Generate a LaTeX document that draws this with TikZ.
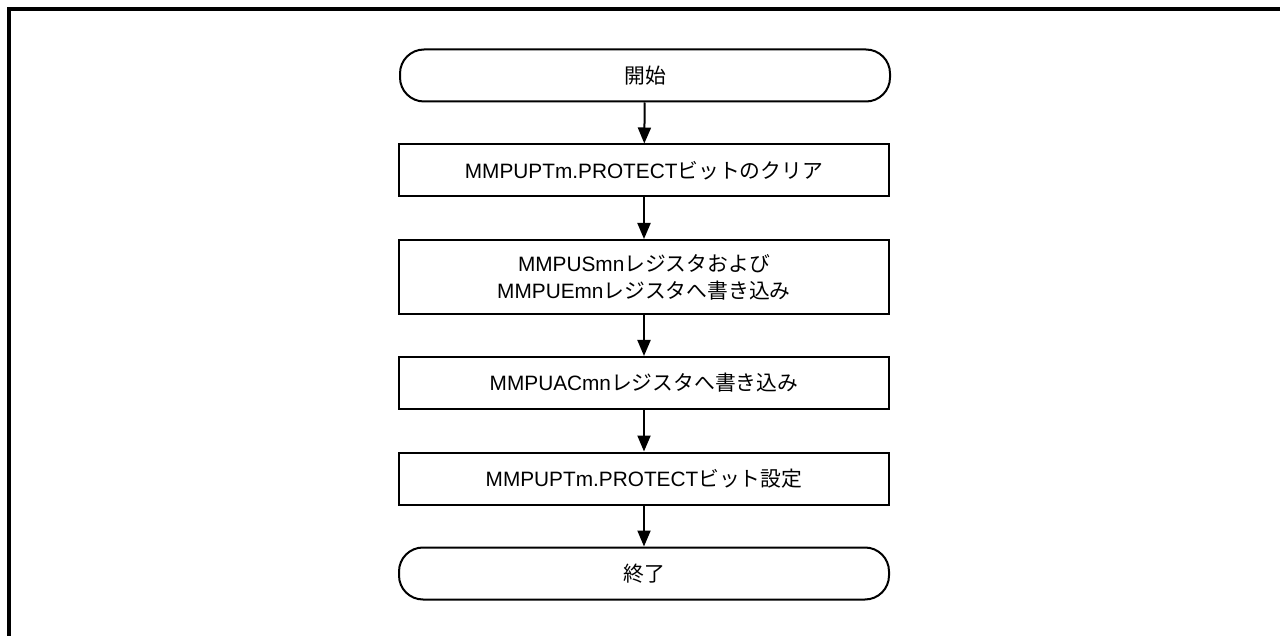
\documentclass[tikz,border=0pt]{standalone}
\usepackage{fontspec}
\setmainfont{Liberation Sans}
\newfontfamily\cjk{Noto Sans CJK JP}
\usetikzlibrary{arrows.meta}
\begin{document}
\begin{tikzpicture}[x=0.5pt,y=-0.5pt,
  proc/.style={draw,line width=1pt,minimum width=245pt,minimum height=26pt,inner sep=0pt,align=center,font=\fontsize{10.4}{13.5}\selectfont},
  term/.style={proc,rounded corners=12pt},
  flow/.style={line width=1pt,-{Triangle[length=8pt,width=6.5pt]}}]
\useasboundingbox (0,0) rectangle (1280,636);
\draw[line width=2pt] (9,636) -- (9,9.5) -- (1280,9.5);
\node[term] (start) at (645,75.5) {{\cjk 開始}};
\node[proc] (b1) at (644,170.5) {MMPUPTm.PROTECT{\cjk ビットのクリア}};
\node[proc,minimum height=37pt] (b2) at (644,277) {MMPUSmn{\cjk レジスタおよび}\\MMPUEmn{\cjk レジスタへ書き込み}};
\node[proc] (b3) at (644,383) {MMPUACmn{\cjk レジスタへ書き込み}};
\node[proc] (b4) at (644,478.5) {MMPUPTm.PROTECT{\cjk ビット設定}};
\node[term] (end) at (644,573.5) {{\cjk 終了}};
\draw[flow] (start) -- (b1);
\draw[flow] (b1) -- (b2);
\draw[flow] (b2) -- (b3);
\draw[flow] (b3) -- (b4);
\draw[flow] (b4) -- (end);
\end{tikzpicture}
\end{document}
